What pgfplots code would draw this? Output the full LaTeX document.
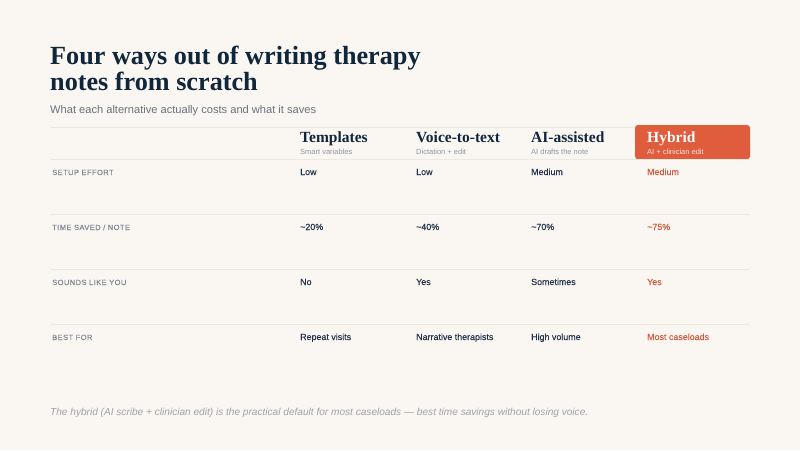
\documentclass[border=0pt]{standalone}
\usepackage{fontspec}
\usepackage{pgfplots}
\pgfplotsset{compat=1.18}
\setmainfont{Liberation Sans}
\newfontfamily\serif{Liberation Serif}
\newfontfamily\capsfont[LetterSpace=6, FakeBold=0.15]{Liberation Sans}
\newfontfamily\cellfont[FakeBold=0.2]{Liberation Sans}

\definecolor{bg}{HTML}{FAF6F2}
\definecolor{ink}{HTML}{10263B}
\definecolor{cell}{HTML}{22324A}
\definecolor{sub}{HTML}{68727E}
\definecolor{lbl}{HTML}{808995}
\definecolor{faint}{HTML}{8E97A1}
\definecolor{rule}{HTML}{EFE8E1}
\definecolor{accent}{HTML}{DF5C3C}
\definecolor{accenttxt}{HTML}{D4583C}
\definecolor{note}{HTML}{9EA3A9}

\pgfplotsset{
  celltext/.style={only marks, mark=none, nodes near coords,
    point meta=explicit symbolic,
    every node near coord/.append style={anchor=base west, inner sep=0pt, #1}},
}

\begin{document}
\begin{tikzpicture}
\begin{axis}[
    width=800pt, height=450pt, scale only axis,
    xmin=0, xmax=800, ymin=0, ymax=450,
    y dir=reverse, hide axis, clip=false,
]
% page background and header box
\fill[bg] (axis cs:0,0) rectangle (axis cs:800,450);
\fill[accent, rounded corners=3pt] (axis cs:635,125) rectangle (axis cs:750,159.3);

% rules
\addplot[rule, line width=1pt] coordinates {(50,127.7)(635,127.7)};
\addplot[rule, line width=1pt] coordinates {(50,159.3)(750,159.3)};
\addplot[rule, line width=1pt] coordinates {(50,214.5)(750,214.5)};
\addplot[rule, line width=1pt] coordinates {(50,269.5)(750,269.5)};
\addplot[rule, line width=1pt] coordinates {(50,324.5)(750,324.5)};

% title block
\node[anchor=base west, inner sep=0pt, text=ink, font=\serif\bfseries\fontsize{26.2}{28}\selectfont]
  at (axis cs:50,64.5) {Four ways out of writing therapy};
\node[anchor=base west, inner sep=0pt, text=ink, font=\serif\bfseries\fontsize{26.2}{28}\selectfont]
  at (axis cs:50,90) {notes from scratch};
\node[anchor=base west, inner sep=0pt, text=sub, font=\fontsize{11.1}{13}\selectfont]
  at (axis cs:50,113.5) {What each alternative actually costs and what it saves};

% column headers
\addplot[celltext={text=ink, font=\serif\bfseries\fontsize{15.5}{17}\selectfont}]
  coordinates {(300,142.7)[Templates] (416,142.7)[Voice-to-text] (531,142.7)[AI-assisted]};
\addplot[celltext={text=white, font=\serif\bfseries\fontsize{15.5}{17}\selectfont}]
  coordinates {(647,142.7)[Hybrid]};
\addplot[celltext={text=faint, font=\fontsize{7.5}{9}\selectfont}]
  coordinates {(300,154.5)[Smart variables] (416,154.5)[Dictation + edit] (531,154.5)[AI drafts the note]};
\addplot[celltext={text=white!82!accent, font=\fontsize{7.5}{9}\selectfont}]
  coordinates {(647,154.5)[AI + clinician edit]};

% row labels
\addplot[celltext={text=lbl, font=\capsfont\fontsize{7.5}{9}\selectfont}]
  coordinates {(52,175)[SETUP EFFORT] (52,230)[TIME SAVED / NOTE] (52,285)[SOUNDS LIKE YOU] (52,340)[BEST FOR]};

% cells
\addplot[celltext={text=cell, font=\cellfont\fontsize{8.9}{11}\selectfont}]
  coordinates {(300,175)[Low] (300,230)[\textasciitilde20\%] (300,285)[No] (300,340)[Repeat visits]};
\addplot[celltext={text=cell, font=\cellfont\fontsize{8.9}{11}\selectfont}]
  coordinates {(416,175)[Low] (416,230)[\textasciitilde40\%] (416,285)[Yes] (416,340)[Narrative therapists]};
\addplot[celltext={text=cell, font=\cellfont\fontsize{8.9}{11}\selectfont}]
  coordinates {(531,175)[Medium] (531,230)[\textasciitilde70\%] (531,285)[Sometimes] (531,340)[High volume]};
\addplot[celltext={text=accenttxt, font=\cellfont\fontsize{8.9}{11}\selectfont}]
  coordinates {(647,175)[Medium] (647,230)[\textasciitilde75\%] (647,285)[Yes] (647,340)[Most caseloads]};

% footnote
\node[anchor=base west, inner sep=0pt, text=note, font=\itshape\fontsize{10.1}{12}\selectfont]
  at (axis cs:50,415) {The hybrid (AI scribe + clinician edit) is the practical default for most caseloads --- best time savings without losing voice.};
\end{axis}
\end{tikzpicture}
\end{document}
